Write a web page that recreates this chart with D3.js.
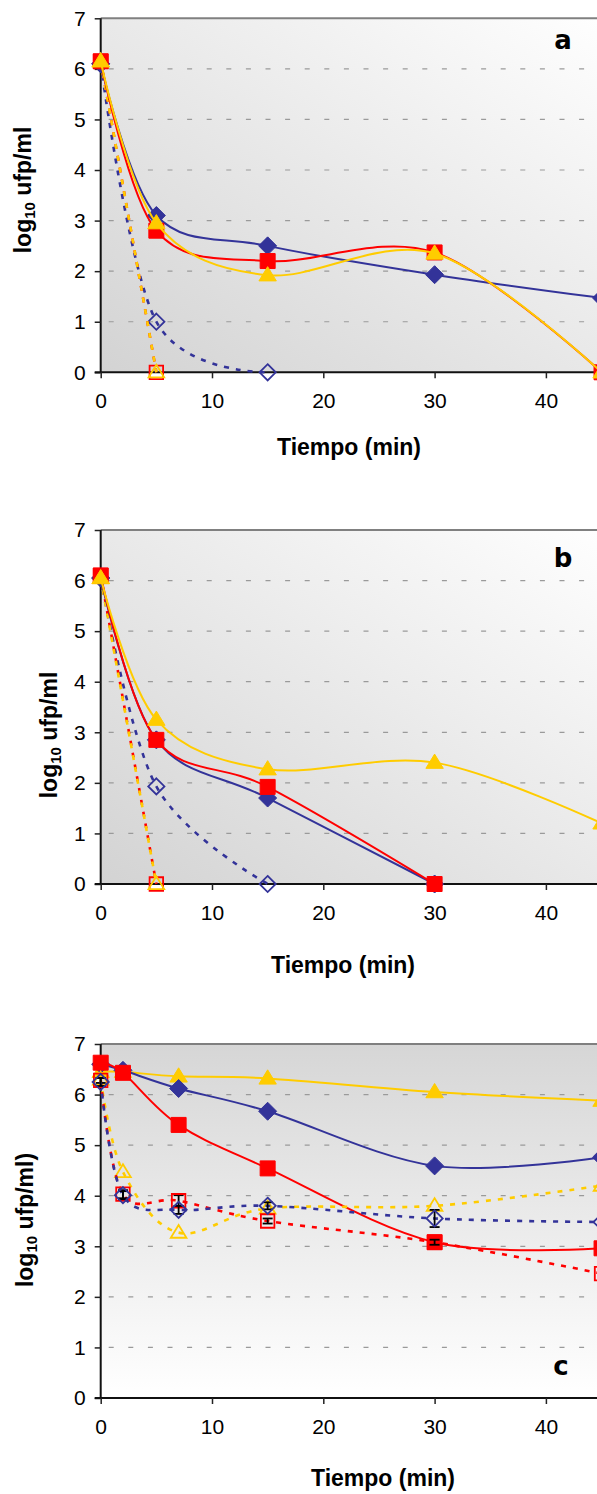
<!DOCTYPE html>
<html>
<head>
<meta charset="utf-8">
<script src="https://cdn.jsdelivr.net/npm/d3@7"></script>
<style>
  body { margin: 0; background: #fff; }
  svg { display: block; font-family: "Liberation Sans", Arial, sans-serif; }
  .tick-label { font-size: 21px; fill: #000; }
  .axis-title { font-size: 23px; font-weight: bold; fill: #000; }
  .panel-letter { font-family: "DejaVu Sans", sans-serif; font-size: 26px; font-weight: bold; }
</style>
</head>
<body>
<div id="chart"></div>
<script>
var width = 597,
    height = 1494;

// ---- data ----
var yTicks = [0, 1, 2, 3, 4, 5, 6, 7];
var xTicks = [0, 10, 20, 30, 40];
var xTitle = "Tiempo (min)";

// panel a
var aTime = [0, 5, 15, 30, 45];
var aBlue = [6.1, 3.1, 2.5, 1.93, 1.47];
var aRed = [6.15, 2.8, 2.2, 2.37, 0];
var aYellow = [6.15, 2.95, 1.92, 2.35, 0];
var aBlueOpenTime = [0, 5, 15];
var aBlueOpen = [6.1, 1.0, 0];
var aRedOpenTime = [0, 5];
var aRedOpen = [6.15, 0];
var aYellowOpenTime = [0, 5];
var aYellowOpen = [6.15, 0];

// panel b
var bTime = [0, 5, 15, 30];
var bBlue = [6.05, 2.85, 1.7, 0];
var bRed = [6.1, 2.85, 1.92, 0];
var bYellowTime = [0, 5, 15, 30, 45];
var bYellow = [6.05, 3.25, 2.27, 2.4, 1.2];
var bBlueOpenTime = [0, 5, 15];
var bBlueOpen = [6.05, 1.93, 0];
var bRedOpenTime = [0, 5];
var bRedOpen = [6.1, 0];
var bYellowOpenTime = [0, 5];
var bYellowOpen = [6.05, 0];

// panel c
var cTime = [0, 2, 7, 15, 30, 45];
var cBlue = [6.6, 6.48, 6.12, 5.67, 4.59, 4.76];
var cRed = [6.63, 6.43, 5.4, 4.54, 3.08, 2.96];
var cYellow = [6.45, 6.45, 6.36, 6.32, 6.05, 5.88];
var cBlueOpen = [6.25, 4.01, 3.72, 3.8, 3.55, 3.48];
var cRedOpen = [6.28, 4.03, 3.9, 3.5, 3.08, 2.46];
var cYellowOpen = [6.3, 4.47, 3.27, 3.75, 3.8, 4.2];
var cBlueErr = [0.08, 0.08, 0.08, 0.07, 0.17, 0];
var cRedErr = [0.05, 0.08, 0.11, 0.05, 0.05, 0];

var BLUE = "#333399", RED = "#ff0000", YELLOW = "#ffcc00";

function zip(t, v, e) {
  return t.map(function(d, i) { return { t: d, v: v[i], e: e ? e[i] : 0 }; });
}

// draw order: open (dashed) first, then filled
var panels = [
  {
    letter: "a", top: 18.3, bottom: 372.3, grad: "gradA",
    yTitle: "log", yTitleEnd: " ufp/ml", yTitleX: 23, yTitleY: 190,
    xTitleX: 349, xTitleDy: 83, letterX: 563, letterY: 49,
    series: [
      { d: zip(aBlueOpenTime, aBlueOpen), c: BLUE, sym: "diamond", open: true },
      { d: zip(aRedOpenTime, aRedOpen), c: RED, sym: "square", open: true },
      { d: zip(aYellowOpenTime, aYellowOpen), c: YELLOW, sym: "triangle", open: true },
      { d: zip(aTime, aBlue), c: BLUE, sym: "diamond" },
      { d: zip(aTime, aRed), c: RED, sym: "square" },
      { d: zip(aTime, aYellow), c: YELLOW, sym: "triangle" }
    ]
  },
  {
    letter: "b", top: 530, bottom: 884, grad: "gradB",
    yTitle: "log", yTitleEnd: " ufp/ml", yTitleX: 49, yTitleY: 735,
    xTitleX: 343, xTitleDy: 89, letterX: 563, letterY: 567,
    series: [
      { d: zip(bBlueOpenTime, bBlueOpen), c: BLUE, sym: "diamond", open: true },
      { d: zip(bRedOpenTime, bRedOpen), c: RED, sym: "square", open: true },
      { d: zip(bYellowOpenTime, bYellowOpen), c: YELLOW, sym: "triangle", open: true },
      { d: zip(bTime, bBlue), c: BLUE, sym: "diamond" },
      { d: zip(bTime, bRed), c: RED, sym: "square" },
      { d: zip(bYellowTime, bYellow), c: YELLOW, sym: "triangle" }
    ]
  },
  {
    letter: "c", top: 1044, bottom: 1398, grad: "gradC",
    yTitle: "log", yTitleEnd: " ufp/ml)", yTitleX: 25, yTitleY: 1220,
    xTitleX: 383, xTitleDy: 88, letterX: 561, letterY: 1375,
    series: [
      { d: zip(cTime, cYellow), c: YELLOW, sym: "triangle" },
      { d: zip(cTime, cBlue), c: BLUE, sym: "diamond" },
      { d: zip(cTime, cRed), c: RED, sym: "square" },
      { d: zip(cTime, cYellowOpen), c: YELLOW, sym: "triangle", open: true },
      { d: zip(cTime, cRedOpen, cRedErr), c: RED, sym: "square", open: true, err: true },
      { d: zip(cTime, cBlueOpen, cBlueErr), c: BLUE, sym: "diamond", open: true, err: true }
    ]
  }
];

var svg = d3.select("#chart")
    .append("svg")
    .attr("width", width)
    .attr("height", height);

var defs = svg.append("defs");

function addGrad(id, x1, y1, x2, y2, c1, c2) {
  var g = defs.append("linearGradient").attr("id", id)
      .attr("x1", x1).attr("y1", y1).attr("x2", x2).attr("y2", y2);
  g.append("stop").attr("offset", "0%").attr("stop-color", c1);
  g.append("stop").attr("offset", "100%").attr("stop-color", c2);
}
addGrad("gradA", "100%", "0%", "0%", "100%", "#ffffff", "#d3d3d3");
addGrad("gradB", "100%", "0%", "0%", "100%", "#ffffff", "#d3d3d3");
addGrad("gradC", "0%", "0%", "0%", "100%", "#d6d6d6", "#ffffff");

var x = d3.scaleLinear().domain([0, 50]).range([100.7, 100.7 + 556.5]);

function markerPath(sym, s) {
  var p = d3.path();
  if (sym === "square") {
    p.rect(-s / 2, -s / 2, s, s);
  } else if (sym === "diamond") {
    var r = s * 0.6;
    p.moveTo(0, -r); p.lineTo(r, 0); p.lineTo(0, r); p.lineTo(-r, 0); p.closePath();
  } else {
    var h = s * 0.95, w = s * 0.58;
    p.moveTo(0, -h * 0.6); p.lineTo(w, h * 0.4); p.lineTo(-w, h * 0.4); p.closePath();
  }
  return p.toString();
}

panels.forEach(function(pn) {
  var y = d3.scaleLinear().domain([0, 7]).range([pn.bottom, pn.top]);
  var g = svg.append("g");
  var left = x(0);

  // plot area
  g.append("rect")
    .attr("x", left).attr("y", pn.top)
    .attr("width", width - left + 20).attr("height", pn.bottom - pn.top)
    .attr("fill", "url(#" + pn.grad + ")");

  // grid
  g.selectAll(".grid")
    .data(yTicks.filter(function(d) { return d > 0 && d < 7; }))
    .enter().append("line")
    .attr("x1", left).attr("x2", width)
    .attr("y1", function(d) { return y(d); })
    .attr("y2", function(d) { return y(d); })
    .attr("stroke", "#9a9a9a")
    .attr("stroke-width", 1.2)
    .attr("stroke-dasharray", "5,14.6")
    .attr("stroke-dashoffset", -8);

  // top border
  g.append("line")
    .attr("x1", left).attr("x2", width)
    .attr("y1", pn.top).attr("y2", pn.top)
    .attr("stroke", "#808080").attr("stroke-width", 2);

  // axes
  var yAxis = d3.axisLeft(y).tickValues(yTicks).tickSize(6).tickPadding(9).tickFormat(d3.format("d"));
  var xAxis = d3.axisBottom(x).tickValues(xTicks).tickSize(6).tickPadding(15).tickFormat(d3.format("d"));

  var ya = g.append("g").attr("transform", "translate(" + left + ",0)").call(yAxis);
  var xa = g.append("g").attr("transform", "translate(0," + pn.bottom + ")").call(xAxis);
  [ya, xa].forEach(function(a) {
    a.select(".domain").attr("stroke", "#111").attr("stroke-width", 2);
    a.selectAll(".tick line").attr("stroke", "#222").attr("stroke-width", 1.5);
    a.selectAll(".tick text").attr("class", "tick-label").attr("font-size", null).attr("font-family", null);
  });
  xa.select(".domain").attr("d", "M" + (left - 6) + ",0H" + (width + 10));
  ya.select(".domain").attr("d", "M0," + (pn.top) + "V" + (pn.bottom));

  // series
  var plot = g.append("g");
  pn.series.forEach(function(s) {
    var line = d3.line()
      .x(function(d) { return x(d.t); })
      .y(function(d) { return y(d.v); })
      .curve(d3.curveCatmullRom.alpha(0));

    plot.append("path")
      .datum(s.d)
      .attr("d", line)
      .attr("fill", "none")
      .attr("stroke", s.c)
      .attr("stroke-width", s.open ? 2.6 : 2)
      .attr("stroke-dasharray", s.open ? "5,7" : null);

    if (s.err) {
      var eb = plot.selectAll(null)
        .data(s.d.filter(function(d) { return d.e > 0; }))
        .enter().append("g").attr("stroke", "#000").attr("stroke-width", 1.8);
      eb.append("line")
        .attr("x1", function(d) { return x(d.t); }).attr("x2", function(d) { return x(d.t); })
        .attr("y1", function(d) { return y(d.v - d.e); }).attr("y2", function(d) { return y(d.v + d.e); });
      eb.append("line")
        .attr("x1", function(d) { return x(d.t) - 5; }).attr("x2", function(d) { return x(d.t) + 5; })
        .attr("y1", function(d) { return y(d.v - d.e); }).attr("y2", function(d) { return y(d.v - d.e); });
      eb.append("line")
        .attr("x1", function(d) { return x(d.t) - 5; }).attr("x2", function(d) { return x(d.t) + 5; })
        .attr("y1", function(d) { return y(d.v + d.e); }).attr("y2", function(d) { return y(d.v + d.e); });
    }

    plot.selectAll(null)
      .data(s.d)
      .enter().append("path")
      .attr("transform", function(d) { return "translate(" + x(d.t) + "," + y(d.v) + ")"; })
      .attr("d", markerPath(s.sym, s.open ? 13.5 : 15))
      .attr("fill", s.open ? "none" : s.c)
      .attr("stroke", s.c)
      .attr("stroke-width", s.open ? 1.8 : 1);
  });

  // titles
  g.append("text")
    .attr("class", "axis-title")
    .attr("x", pn.xTitleX)
    .attr("y", pn.bottom + pn.xTitleDy)
    .attr("text-anchor", "middle")
    .text(xTitle);

  var yt = g.append("text")
    .attr("class", "axis-title")
    .attr("text-anchor", "middle")
    .attr("transform", "translate(" + pn.yTitleX + "," + pn.yTitleY + ") rotate(-90)")
    .attr("dy", "0.35em");
  yt.append("tspan").text(pn.yTitle);
  yt.append("tspan").attr("font-size", "15px").attr("dy", "4").text("10");
  yt.append("tspan").attr("dy", "-4").text(pn.yTitleEnd);

  g.append("text")
    .attr("class", "panel-letter")
    .attr("x", pn.letterX)
    .attr("y", pn.letterY)
    .attr("text-anchor", "middle")
    .text(pn.letter);
});
</script>
</body>
</html>
